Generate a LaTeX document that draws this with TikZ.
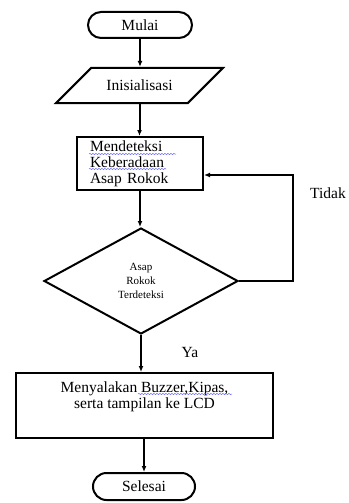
\documentclass[tikz,border=0pt]{standalone}
\usepackage{fontspec}
\setmainfont{Liberation Serif}
\usetikzlibrary{
  arrows.meta,
  positioning,
  shapes.geometric,
  shapes.misc,
  calc,
  decorations.pathmorphing
}

\begin{document}
\begin{tikzpicture}[x=1pt, y=-1pt,
    font=\fontsize{15.5}{16}\selectfont,
    garis/.style={line width=2pt},
    panah/.style={garis, -{Latex[length=6pt,width=5pt]}},
    terminal/.style={rounded rectangle, draw, garis, minimum height=26pt, inner sep=0pt},
    proses/.style={rectangle, draw, garis},
    masukan/.style={trapezium, trapezium left angle=45, trapezium right angle=135,
      trapezium stretches body, draw, garis, minimum height=35pt, minimum width=167pt,
      inner xsep=0pt, inner ysep=12.2pt},
    keputusan/.style={diamond, draw, garis, aspect=1.83, minimum width=194pt,
      minimum height=106pt, inner sep=0pt, align=center, font=\fontsize{11}{14}\selectfont},
    ejaan/.style={draw=blue!60, line width=0.5pt, decorate,
      decoration={snake, segment length=3pt, amplitude=0.6pt}}]

        % Moldura da figura
        \useasboundingbox (0,0) rectangle (348,503);

        % Blocos do fluxograma
        \node[terminal, minimum width=104pt] (mulai) at (140,25) {Mulai};
        \node[masukan] (init) at (139.5,85.5) {Inisialisasi};
        \node[proses, minimum width=126pt, minimum height=53pt, text width=100pt,
          inner xsep=13pt, align=left] (deteksi) at (140,163.5)
          {Mendeteksi\\Keberadaan\\Asap Rokok};
        \node[keputusan] (asap) at (141,281) {Asap\\Rokok\\Terdeteksi};
        \node[proses, minimum width=257pt, minimum height=65pt, align=center]
          (aksi) at (144.5,405.5) {Menyalakan Buzzer,Kipas,\\serta tampilan ke LCD\\\strut};
        \node[terminal, minimum width=102pt, minimum height=27pt] (selesai) at (144,486.5) {Selesai};

        % Setas principais
        \draw[panah] (mulai.south) -- (mulai.south |- init.north);
        \draw[panah] (init.south) -- (init.south |- deteksi.north);
        \draw[panah] (deteksi.south) -- (deteksi.south |- asap.north);
        \draw[panah] (asap.south) -- (asap.south |- aksi.north);
        \draw[panah] (selesai.north |- aksi.south) -- (selesai.north);

        % Laco de retorno
        \coordinate (balik) at (293,175);
        \draw[panah] (asap.east) -| (balik) -- (balik -| deteksi.east);

        % Rotulos das saidas
        \node (tidak) at (328,193) {Tidak};
        \node (ya) at (190,352) {Ya};

        % Sublinhados ondulados
        \draw[ejaan] ($(deteksi.north west)+(13,18)$) -- ++(87,0);
        \draw[ejaan] ($(deteksi.north west)+(13,33)$) -- ++(77,0);
        \draw[ejaan] ($(aksi.north west)+(123,22)$) -- ++(94,0);
\end{tikzpicture}
\end{document}
